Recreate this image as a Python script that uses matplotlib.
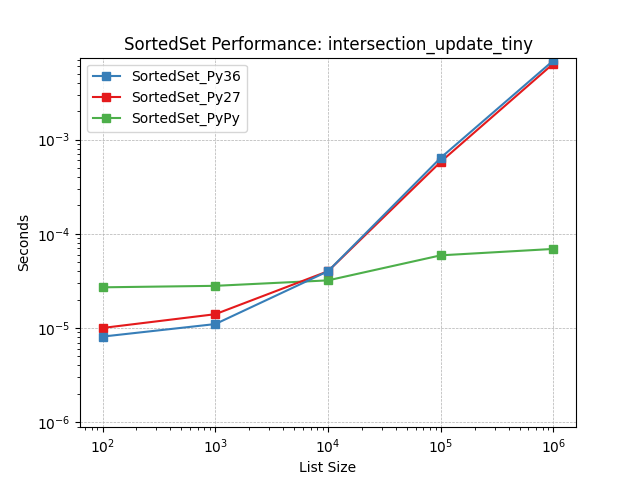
import matplotlib
matplotlib.use("Agg")
import matplotlib.pyplot as plt

sizes = [100, 1000, 10000, 100000, 1000000]
py36 = [8.1e-6, 1.10e-5, 4.0e-5, 6.4e-4, 6.9e-3]
py27 = [1.0e-5, 1.40e-5, 4.0e-5, 5.8e-4, 6.4e-3]
pypy = [2.7e-5, 2.8e-5, 3.2e-5, 5.9e-5, 6.9e-5]

series = [
    ("SortedSet_Py36", py36, "#377eb8"),
    ("SortedSet_Py27", py27, "#e41a1c"),
    ("SortedSet_PyPy", pypy, "#4daf4a"),
]

fig, ax = plt.subplots(figsize=(6.4, 4.8), dpi=100)
handles = []
# draw in reverse so Py36 sits on top, keep legend order
for label, vals, color in reversed(series):
    line, = ax.plot(sizes, vals, marker="s", color=color, label=label)
    handles.append(line)
handles = handles[::-1]

ax.set_xscale("log")
ax.set_yscale("log")
ax.set_ylim(8.85e-7, 7.4e-3)
ax.set_xlabel("List Size")
ax.set_ylabel("Seconds")
ax.set_title("SortedSet Performance: intersection_update_tiny")
ax.grid(True, linestyle="--", linewidth=0.5)
ax.legend(handles=handles, loc="upper left")

fig.savefig("out.png")
